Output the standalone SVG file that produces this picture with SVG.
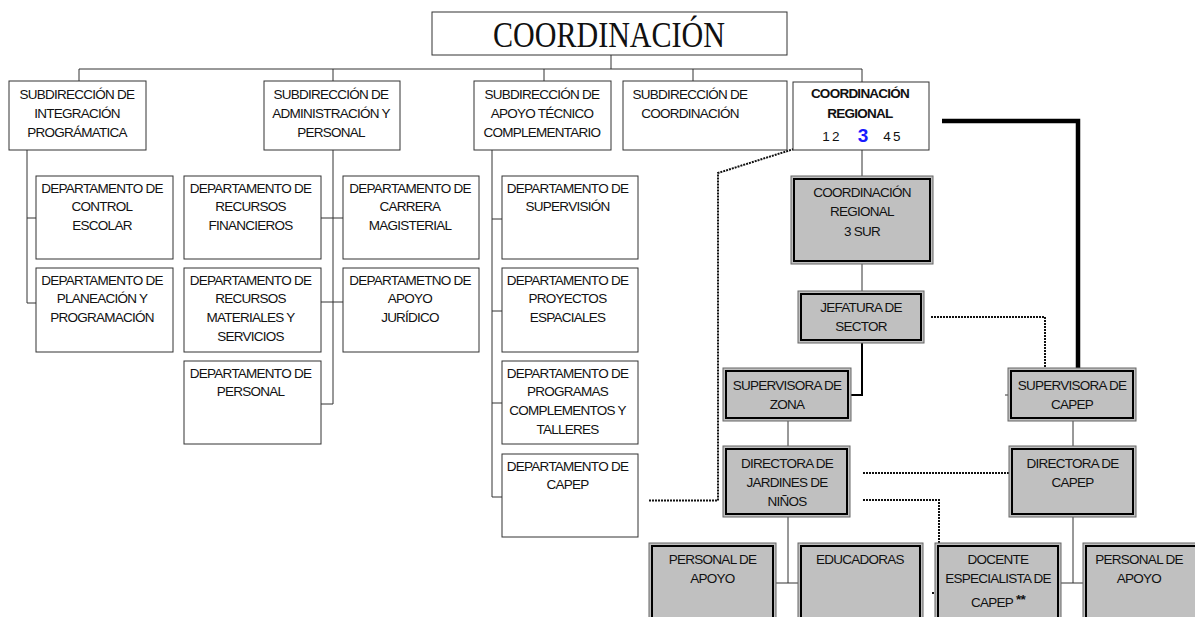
<svg xmlns="http://www.w3.org/2000/svg" width="1195" height="617" viewBox="0 0 1195 617">
<style>
.t{font-family:"Liberation Sans",Arial,sans-serif;font-size:13.5px;letter-spacing:-0.75px;fill:#111;text-anchor:middle}
.b{fill:#fff;stroke:#333;stroke-width:1}
.go{fill:#c0c0c0;stroke:#666;stroke-width:1}
.gi{fill:none;stroke:#000;stroke-width:2}
.c{fill:none;stroke:#333;stroke-width:1}
.d{fill:none;stroke:#111;stroke-width:2;stroke-dasharray:2 1}
</style>
<rect width="1195" height="617" fill="#fff"/>
<g id="connectors">
<path class="c" d="M611 55V69M79 69H862M79 69V81M333 69V81M544 69V81M693 69V81M862 69V82"/>
<path class="c" d="M27 150V303M27 218H36M27 303H36"/>
<path class="c" d="M333 150V404M321 218H343M321 302H343M321 404H333"/>
<path class="c" d="M492 150V497M492 219H502M492 311H502M492 403H502M492 497H502"/>
<path class="c" d="M862 150V176M862 264V291"/>
<path fill="none" stroke="#000" stroke-width="2" d="M862 343V395H851"/>
<path fill="none" stroke="#000" stroke-width="4.5" d="M942 121H1078V368"/>
<path class="c" d="M1005 395H1008"/>
<path class="c" d="M788 421V446M1073 421V446"/>
<path class="c" d="M788 517V583M776 583H798M1073 517V583M1061 583H1083"/>
<path class="d" d="M649 500.5H718V173L797 148"/>
<path class="d" d="M931 317H1045V368"/>
<path class="d" d="M863 473H1009"/>
<path class="d" d="M863 500H939V593H931"/>
</g>
<g id="coordinacion">
<rect class="b" x="432" y="12" width="355" height="43"/>
<text x="609" y="47" font-family="'Liberation Serif','Times New Roman',serif" font-size="35" fill="#111" text-anchor="middle" textLength="232" lengthAdjust="spacingAndGlyphs">COORDINACIÓN</text>
</g>
<g id="sub-integracion">
<rect class="b" x="9" y="81" width="137" height="69"/>
<text class="t" x="77" y="98.5">SUBDIRECCIÓN DE</text>
<text class="t" x="77" y="117.5">INTEGRACIÓN</text>
<text class="t" x="77" y="136.5">PROGRÁMATICA</text>
</g>
<g id="sub-administracion">
<rect class="b" x="264" y="81" width="136" height="69"/>
<text class="t" x="331" y="98.5">SUBDIRECCIÓN DE</text>
<text class="t" x="331" y="117.5">ADMINISTRACIÓN Y</text>
<text class="t" x="331" y="136.5">PERSONAL</text>
</g>
<g id="sub-apoyo">
<rect class="b" x="474" y="81" width="137" height="69"/>
<text class="t" x="542" y="98.5">SUBDIRECCIÓN DE</text>
<text class="t" x="542" y="117.5">APOYO TÉCNICO</text>
<text class="t" x="542" y="136.5">COMPLEMENTARIO</text>
</g>
<g id="sub-coordinacion">
<rect class="b" x="623" y="81" width="164" height="69"/>
<text class="t" x="690" y="98.5">SUBDIRECCIÓN DE</text>
<text class="t" x="690" y="117.5">COORDINACIÓN</text>
</g>
<g id="coord-regional">
<rect class="b" x="793" y="82" width="136" height="68"/>
<text class="t" x="860" y="97.5" font-weight="bold">COORDINACIÓN</text>
<text class="t" x="860" y="117.5" font-weight="bold">REGIONAL</text>
<text class="t" x="830.5" y="141">1 2</text>
<text x="863" y="142" font-family="'Liberation Sans',Arial,sans-serif" font-size="19" font-weight="bold" fill="#1a1aff" text-anchor="middle">3</text>
<text class="t" x="891.5" y="141">4 5</text>
</g>
<g id="dep-control">
<rect class="b" x="36" y="176" width="137" height="83"/>
<text class="t" x="102" y="192.5">DEPARTAMENTO DE</text>
<text class="t" x="102" y="211.3">CONTROL</text>
<text class="t" x="102" y="230.1">ESCOLAR</text>
</g>
<g id="dep-planeacion">
<rect class="b" x="36" y="268" width="137" height="84"/>
<text class="t" x="102" y="284.5">DEPARTAMENTO DE</text>
<text class="t" x="102" y="303.3">PLANEACIÓN Y</text>
<text class="t" x="102" y="322.1">PROGRAMACIÓN</text>
</g>
<g id="dep-financieros">
<rect class="b" x="184" y="176" width="137" height="83"/>
<text class="t" x="250.5" y="192.5">DEPARTAMENTO DE</text>
<text class="t" x="250.5" y="211.3">RECURSOS</text>
<text class="t" x="250.5" y="230.1">FINANCIEROS</text>
</g>
<g id="dep-materiales">
<rect class="b" x="184" y="268" width="137" height="84"/>
<text class="t" x="250.5" y="284.5">DEPARTAMENTO DE</text>
<text class="t" x="250.5" y="303.3">RECURSOS</text>
<text class="t" x="250.5" y="322.1">MATERIALES Y</text>
<text class="t" x="250.5" y="340.9">SERVICIOS</text>
</g>
<g id="dep-personal">
<rect class="b" x="184" y="361" width="137" height="83"/>
<text class="t" x="250.5" y="377.5">DEPARTAMENTO DE</text>
<text class="t" x="250.5" y="396.3">PERSONAL</text>
</g>
<g id="dep-carrera">
<rect class="b" x="343" y="176" width="136" height="83"/>
<text class="t" x="410" y="192.5">DEPARTAMENTO DE</text>
<text class="t" x="410" y="211.3">CARRERA</text>
<text class="t" x="410" y="230.1">MAGISTERIAL</text>
</g>
<g id="dep-juridico">
<rect class="b" x="343" y="268" width="136" height="84"/>
<text class="t" x="410" y="284.5">DEPARTAMETNO DE</text>
<text class="t" x="410" y="303.3">APOYO</text>
<text class="t" x="410" y="322.1">JURÍDICO</text>
</g>
<g id="dep-supervision">
<rect class="b" x="502" y="176" width="136" height="83"/>
<text class="t" x="567.5" y="192.5">DEPARTAMENTO DE</text>
<text class="t" x="567.5" y="211.3">SUPERVISIÓN</text>
</g>
<g id="dep-proyectos">
<rect class="b" x="502" y="268" width="136" height="84"/>
<text class="t" x="567.5" y="284.5">DEPARTAMENTO DE</text>
<text class="t" x="567.5" y="303.3">PROYECTOS</text>
<text class="t" x="567.5" y="322.1">ESPACIALES</text>
</g>
<g id="dep-programas">
<rect class="b" x="502" y="361" width="136" height="83"/>
<text class="t" x="567.5" y="377.5">DEPARTAMENTO DE</text>
<text class="t" x="567.5" y="396.3">PROGRAMAS</text>
<text class="t" x="567.5" y="415.1">COMPLEMENTOS Y</text>
<text class="t" x="567.5" y="433.9">TALLERES</text>
</g>
<g id="dep-capep">
<rect class="b" x="502" y="454" width="136" height="83"/>
<text class="t" x="567.5" y="470.5">DEPARTAMENTO DE</text>
<text class="t" x="567.5" y="489.3">CAPEP</text>
</g>
<g id="coord-regional-3-sur">
<rect class="go" x="791" y="176" width="142" height="88"/>
<rect class="gi" x="794" y="179" width="136" height="82"/>
<text class="t" x="862" y="196.5">COORDINACIÓN</text>
<text class="t" x="862" y="216">REGIONAL</text>
<text class="t" x="862" y="235.5">3 SUR</text>
</g>
<g id="jefatura">
<rect class="go" x="798" y="291" width="126" height="52"/>
<rect class="gi" x="801" y="294" width="120" height="46"/>
<text class="t" x="861" y="311.5">JEFATURA DE</text>
<text class="t" x="861" y="330.5">SECTOR</text>
</g>
<g id="supervisora-zona">
<rect class="go" x="723" y="368" width="128" height="53"/>
<rect class="gi" x="726" y="371" width="122" height="47"/>
<text class="t" x="787" y="389.5">SUPERVISORA DE</text>
<text class="t" x="787" y="408.5">ZONA</text>
</g>
<g id="supervisora-capep">
<rect class="go" x="1008" y="368" width="128" height="53"/>
<rect class="gi" x="1011" y="371" width="122" height="47"/>
<text class="t" x="1072" y="389.5">SUPERVISORA DE</text>
<text class="t" x="1072" y="408.5">CAPEP</text>
</g>
<g id="directora-jardines">
<rect class="go" x="723" y="446" width="127" height="71"/>
<rect class="gi" x="726" y="449" width="121" height="65"/>
<text class="t" x="787" y="467.5">DIRECTORA DE</text>
<text class="t" x="787" y="486.5">JARDINES DE</text>
<text class="t" x="787" y="505.5">NIÑOS</text>
</g>
<g id="directora-capep">
<rect class="go" x="1009" y="446" width="127" height="71"/>
<rect class="gi" x="1012" y="449" width="121" height="65"/>
<text class="t" x="1072.5" y="467.5">DIRECTORA DE</text>
<text class="t" x="1072.5" y="486.5">CAPEP</text>
</g>
<g id="personal-apoyo-1">
<rect class="go" x="649" y="543" width="127" height="90"/>
<rect class="gi" x="652" y="546" width="121" height="84"/>
<text class="t" x="712.5" y="563.5">PERSONAL DE</text>
<text class="t" x="712.5" y="582.5">APOYO</text>
</g>
<g id="educadoras">
<rect class="go" x="798" y="543" width="125" height="90"/>
<rect class="gi" x="801" y="546" width="119" height="84"/>
<text class="t" x="860" y="563.5">EDUCADORAS</text>
</g>
<g id="docente">
<rect class="go" x="935" y="543" width="126" height="90"/>
<rect class="gi" x="938" y="546" width="120" height="84"/>
<text class="t" x="998" y="563.5">DOCENTE</text>
<text class="t" x="998" y="582.5">ESPECIALISTA DE</text>
<text class="t" x="998" y="606.5">CAPEP <tspan font-weight="bold" dy="-3">**</tspan></text>
</g>
<g id="personal-apoyo-2">
<rect class="go" x="1083" y="543" width="130" height="90"/>
<rect class="gi" x="1086" y="546" width="124" height="84"/>
<text class="t" x="1139" y="563.5">PERSONAL DE</text>
<text class="t" x="1139" y="582.5">APOYO</text>
</g>
</svg>
